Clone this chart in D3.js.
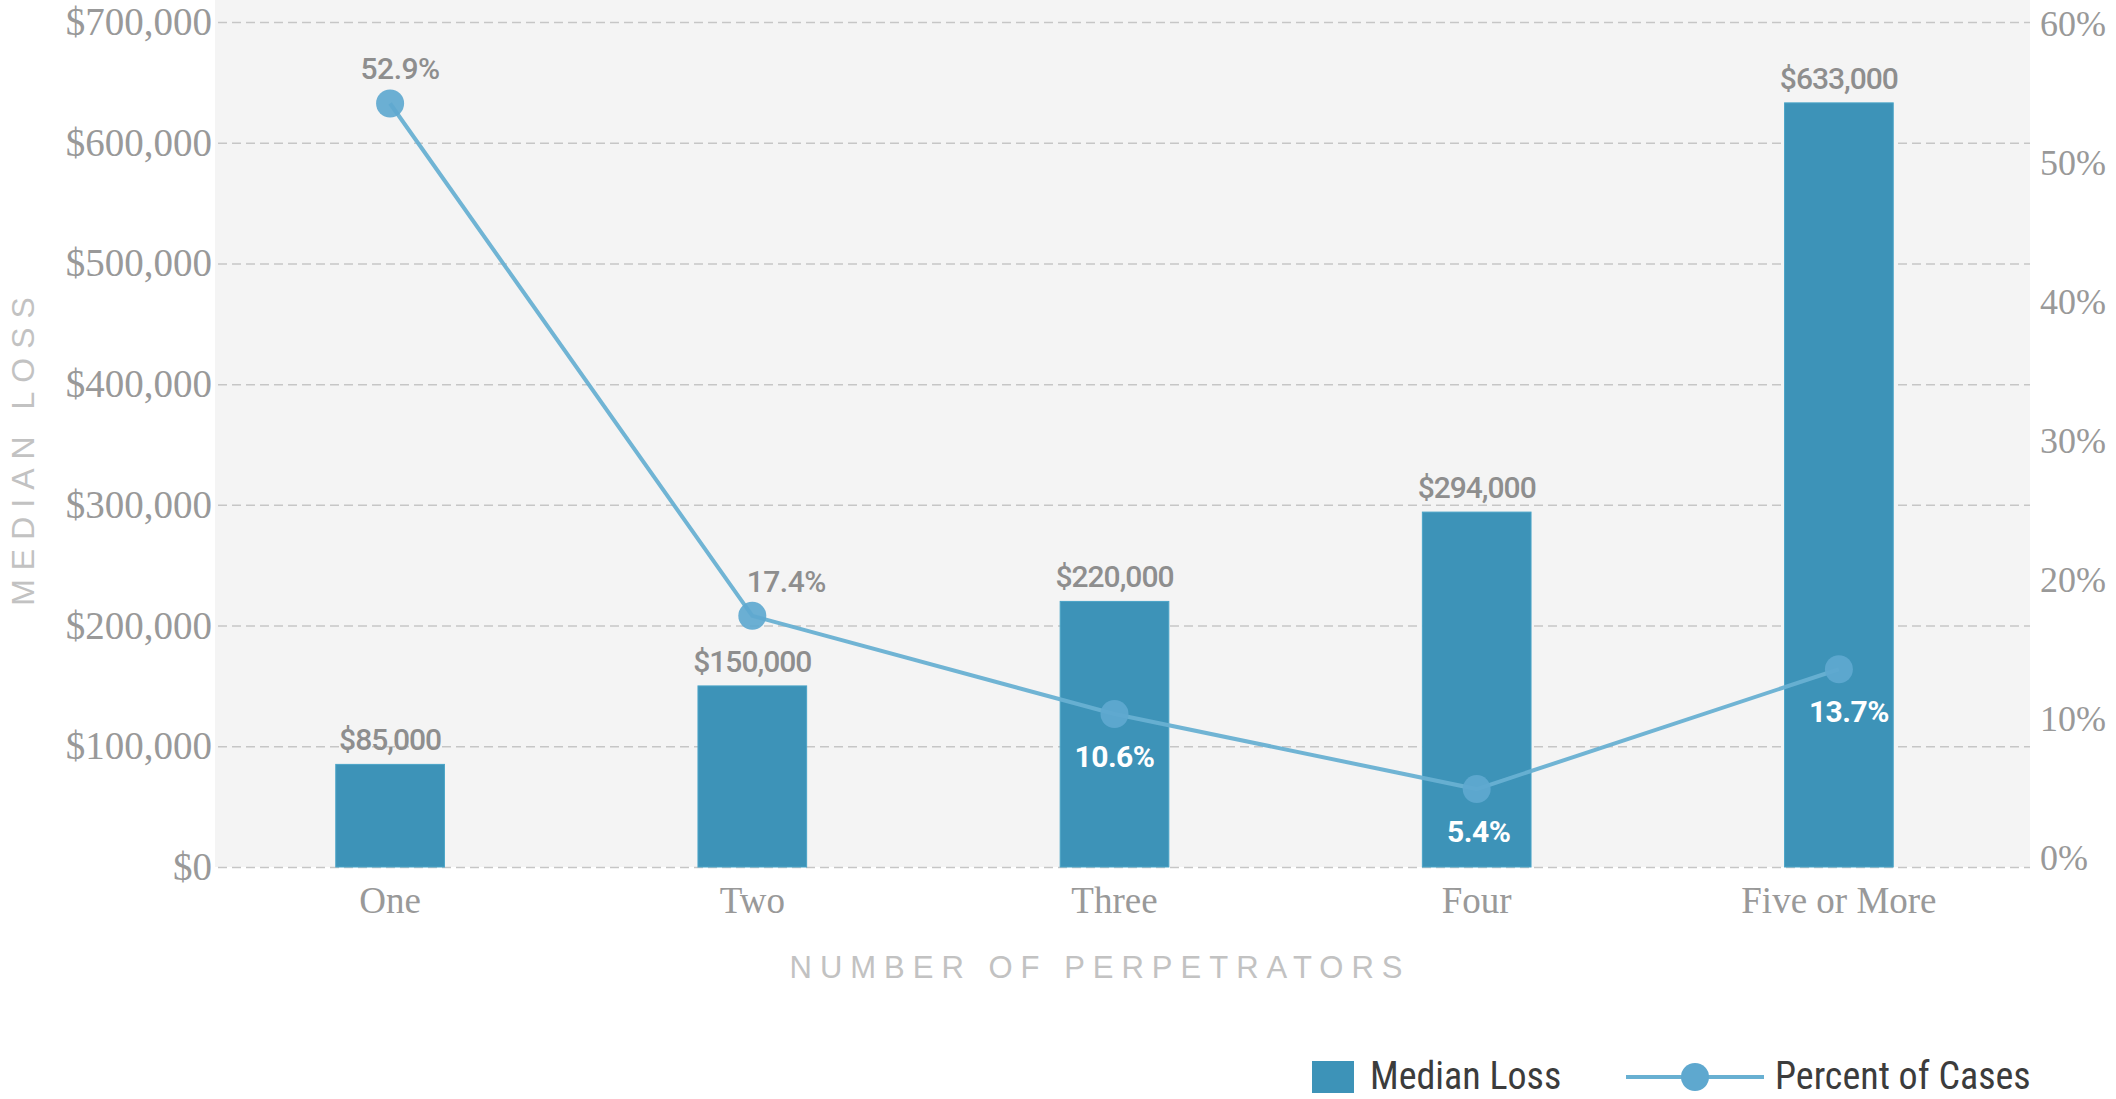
<!DOCTYPE html>
<html>
<head>
<meta charset="utf-8">
<script src="https://cdn.jsdelivr.net/npm/d3@7"></script>
<style>
  body { margin: 0; background: #ffffff; }
  svg { display: block; }
</style>
</head>
<body>
<svg id="chart" width="2116" height="1099"></svg>
<script>
// Fraud cases by number of perpetrators
const categories = ["One", "Two", "Three", "Four", "Five or More"];
const medianLoss = [85000, 150000, 220000, 294000, 633000];
const percentOfCases = [52.9, 17.4, 10.6, 5.4, 13.7];
const lossTicks = [0, 100000, 200000, 300000, 400000, 500000, 600000, 700000];
const percentTicks = [0, 10, 20, 30, 40, 50, 60];

const svg = d3.select("#chart");

const plot = { left: 215, right: 2030, top: 0, bottom: 867 };

const COLORS = {
  panel: "#f4f4f4",
  grid: "#c6c6c6",
  bar: "#3d93b8",
  barEdge: "#4aa4c7",
  line: "#68b0d2",
  dot: "#5ea8cf",
  axisText: "#999999",
  valueText: "#8e8e8e",
  title: "#c2c2c2",
  legendText: "#3c3c3c"
};

// Scales
const x = d3.scaleBand()
  .domain(categories)
  .range([209, 2020])
  .paddingInner(0.7)
  .paddingOuter(0.35);

const yLoss = d3.scaleLinear().domain([0, 700000]).range([867, 22]);
const yShare = d3.scaleLinear().domain([0, 60]).range([867, 1]);
const yShareAxis = d3.scaleLinear().domain([0, 60]).range([858, 24]);

// Plot panel
svg.append("rect")
  .attr("x", plot.left).attr("y", plot.top)
  .attr("width", plot.right - plot.left)
  .attr("height", plot.bottom - plot.top)
  .attr("fill", COLORS.panel);

// Left axis with dashed gridlines
const leftAxis = svg.append("g")
  .attr("transform", "translate(218,0)")
  .call(d3.axisLeft(yLoss)
    .tickValues(lossTicks)
    .tickSizeInner(-(plot.right - 218))
    .tickSizeOuter(0)
    .tickPadding(6)
    .tickFormat(d => "$" + d3.format(",")(d)));
leftAxis.select(".domain").remove();
leftAxis.selectAll(".tick line")
  .attr("stroke", COLORS.grid)
  .attr("stroke-width", 1.5)
  .attr("stroke-dasharray", "9,5");
leftAxis.selectAll(".tick text")
  .attr("fill", COLORS.axisText)
  .style("font-family", "'Liberation Serif', serif")
  .style("font-size", "39px");

// Right axis (percent of cases)
const rightAxis = svg.append("g")
  .attr("transform", "translate(2040,0)")
  .call(d3.axisRight(yShareAxis)
    .tickValues(percentTicks)
    .tickSize(0)
    .tickPadding(0)
    .tickFormat(d => d + "%"));
rightAxis.select(".domain").remove();
rightAxis.selectAll(".tick text")
  .attr("fill", COLORS.axisText)
  .style("font-family", "'Liberation Serif', serif")
  .style("font-size", "36px");

// Bars
svg.append("g").selectAll("rect")
  .data(categories)
  .join("rect")
  .attr("x", d => x(d))
  .attr("y", (d, i) => yLoss(medianLoss[i]))
  .attr("width", x.bandwidth())
  .attr("height", (d, i) => yLoss(0) - yLoss(medianLoss[i]))
  .attr("fill", COLORS.bar)
  .attr("stroke", COLORS.barEdge)
  .attr("stroke-width", 1);

// Bar value labels
svg.append("g").selectAll("text")
  .data(categories)
  .join("text")
  .attr("x", d => x(d) + x.bandwidth() / 2)
  .attr("y", (d, i) => yLoss(medianLoss[i]) - 14)
  .attr("text-anchor", "middle")
  .attr("fill", COLORS.valueText)
  .style("font-family", "Roboto, sans-serif")
  .style("font-size", "30px")
  .style("font-weight", "500")
  .style("letter-spacing", "-1px")
  .text((d, i) => "$" + d3.format(",")(medianLoss[i]));

// Category axis
const bottomAxis = svg.append("g")
  .attr("transform", `translate(0,${plot.bottom})`)
  .call(d3.axisBottom(x).tickSize(0).tickPadding(20));
bottomAxis.select(".domain").remove();
bottomAxis.selectAll(".tick text")
  .attr("fill", COLORS.axisText)
  .style("font-family", "'Liberation Serif', serif")
  .style("font-size", "37px");

// Percent-of-cases line
const cx = d => x(d) + x.bandwidth() / 2;
const linePts = categories.map((c, i) => [cx(c), yShare(percentOfCases[i])]);

svg.append("path")
  .attr("d", d3.line()(linePts))
  .attr("fill", "none")
  .attr("stroke", COLORS.line)
  .attr("stroke-width", 4)
  .attr("stroke-opacity", 0.95);

svg.append("g").selectAll("circle")
  .data(categories)
  .join("circle")
  .attr("cx", d => cx(d))
  .attr("cy", (d, i) => yShare(percentOfCases[i]))
  .attr("r", 14)
  .attr("fill", COLORS.dot)
  .attr("fill-opacity", 0.92);

// Percent labels: above the point when it sits over the panel, below it (white) inside a bar
const labelDx = [10, 34, 0, 2, 10];
svg.append("g").selectAll("text")
  .data(categories)
  .join("text")
  .each(function (d, i) {
    const py = yShare(percentOfCases[i]);
    const inside = py > yLoss(medianLoss[i]);
    d3.select(this)
      .attr("x", cx(d) + labelDx[i])
      .attr("y", inside ? py + 53 : py - 24)
      .attr("fill", inside ? "#ffffff" : COLORS.valueText)
      .style("font-weight", inside ? "700" : "500");
  })
  .attr("text-anchor", "middle")
  .style("font-family", "Roboto, sans-serif")
  .style("font-size", "30px")
  .style("letter-spacing", "-0.5px")
  .text((d, i) => d3.format(".1f")(percentOfCases[i]) + "%");

// Axis titles
svg.append("text")
  .attr("transform", "translate(34,447) rotate(-90)")
  .attr("text-anchor", "middle")
  .attr("fill", COLORS.title)
  .style("font-family", "'Liberation Sans', sans-serif")
  .style("font-size", "32px")
  .style("letter-spacing", "9px")
  .text("MEDIAN LOSS");

svg.append("text")
  .attr("x", 1100)
  .attr("y", 978)
  .attr("text-anchor", "middle")
  .attr("fill", COLORS.title)
  .style("font-family", "'Liberation Sans', sans-serif")
  .style("font-size", "31px")
  .style("letter-spacing", "8px")
  .text("NUMBER OF PERPETRATORS");

// Legend: narrow lettering
const legend = svg.append("g")
  .style("font-family", "'Liberation Sans Narrow', 'Roboto Condensed', 'Arial Narrow', Roboto, sans-serif")
  .style("font-size", "38px");

legend.append("rect")
  .attr("x", 1312).attr("y", 1061)
  .attr("width", 42).attr("height", 32)
  .attr("fill", COLORS.bar);
legend.append("text")
  .attr("x", 1370).attr("y", 1089)
  .attr("fill", COLORS.legendText)
  .text("Median Loss");

legend.append("line")
  .attr("x1", 1626).attr("x2", 1764)
  .attr("y1", 1077).attr("y2", 1077)
  .attr("stroke", COLORS.line)
  .attr("stroke-width", 4);
legend.append("circle")
  .attr("cx", 1695).attr("cy", 1077).attr("r", 14)
  .attr("fill", COLORS.dot);
legend.append("text")
  .attr("x", 1775).attr("y", 1089)
  .attr("fill", COLORS.legendText)
  .text("Percent of Cases");
</script>
</body>
</html>
